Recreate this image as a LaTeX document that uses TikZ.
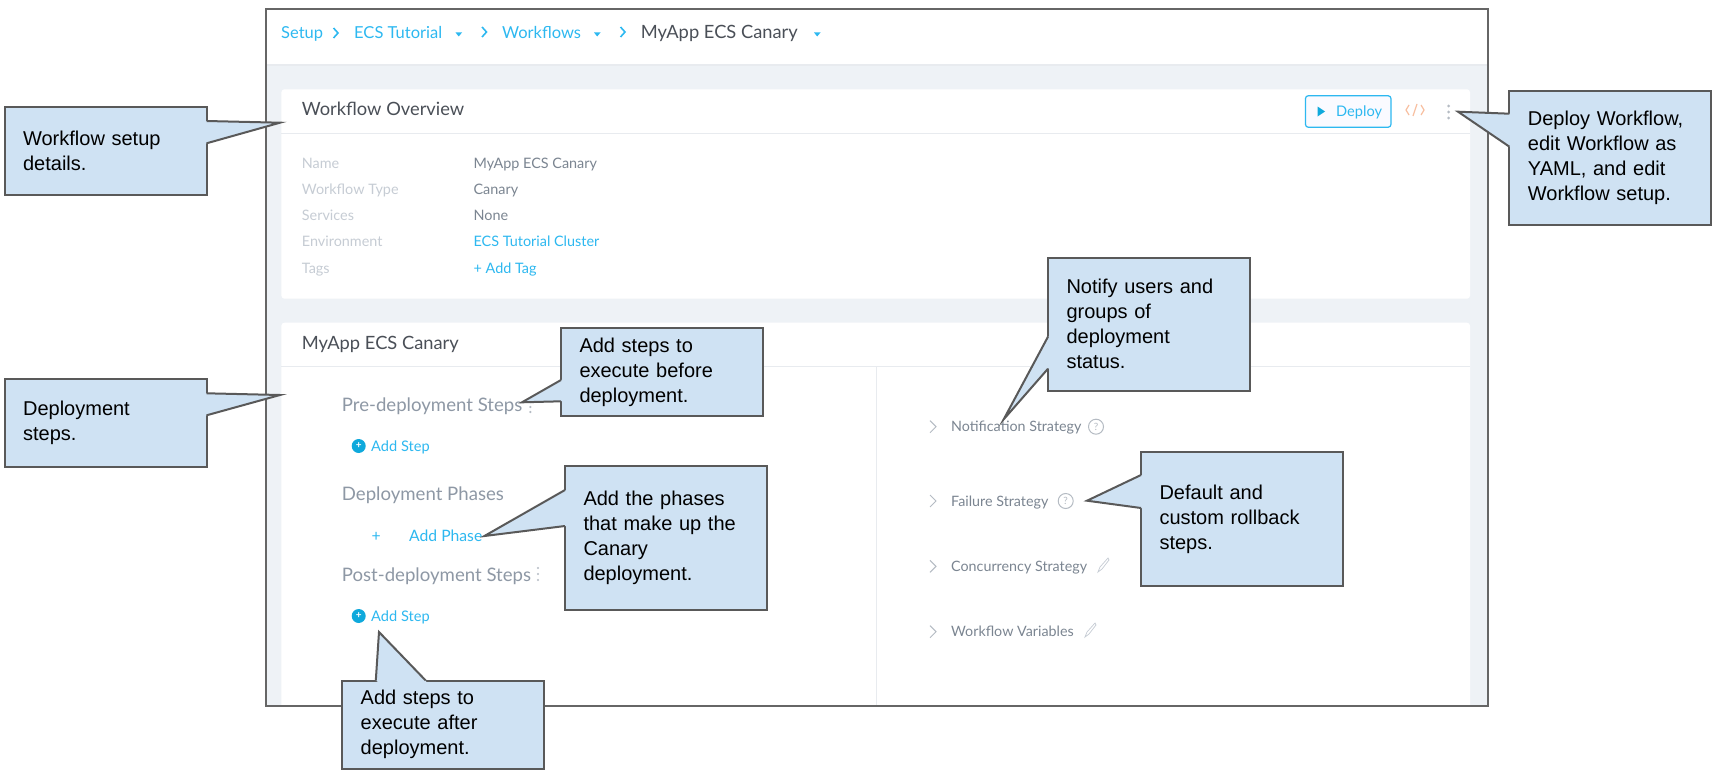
\documentclass[tikz,border=0pt]{standalone}
\usepackage{fontspec}
\usetikzlibrary{calc}
\setmainfont{Lato}
\newfontfamily\calloutfont{Liberation Sans}
\definecolor{calloutfill}{HTML}{CFE2F3}
\definecolor{calloutedge}{HTML}{595959}
\definecolor{framegray}{HTML}{666666}
\definecolor{pagebg}{HTML}{EEF2F6}
\definecolor{rulegray}{HTML}{E8EBEF}
\definecolor{linkblue}{HTML}{2DB8F0}
\definecolor{darktext}{HTML}{4A4F57}
\definecolor{keytext}{HTML}{C6CCD4}
\definecolor{valtext}{HTML}{7B8591}
\definecolor{headtext}{HTML}{8E98A5}
\definecolor{icongray}{HTML}{B5BBC3}
\definecolor{codeorange}{HTML}{F8BFA0}
\definecolor{stepblue}{HTML}{0FA9DC}
\tikzset{
  uitext/.style = {anchor=west, inner sep=0, text height=13pt, text depth=3pt},
  crumb/.style = {uitext, text=linkblue, font=\fontsize{16.5}{18}\selectfont},
  title/.style = {uitext, text=darktext, font=\fontsize{18.3}{20}\selectfont},
  rowkey/.style = {uitext, text=keytext, font=\fontsize{14.4}{16}\selectfont},
  rowval/.style = {uitext, text=valtext, font=\fontsize{14.4}{16}\selectfont},
  rowlink/.style = {uitext, text=linkblue, font=\fontsize{14.4}{16}\selectfont},
  stephead/.style = {uitext, text=headtext, font=\fontsize{18.6}{20}\selectfont},
  steplink/.style = {uitext, text=linkblue, font=\fontsize{14.6}{16}\selectfont},
  strategy/.style = {uitext, text=valtext, font=\fontsize{14.3}{16}\selectfont},
  stepicon/.style = {circle, fill=stepblue, text=white, minimum size=14pt, inner sep=0, font=\fontsize{10}{10}\selectfont\bfseries},
  helpicon/.style = {circle, draw=icongray, line width=1pt, text=icongray, minimum size=15pt, inner sep=0, font=\fontsize{10}{10}\selectfont},
  chev/.style = {draw=linkblue, line width=1.6pt},
  chevgray/.style = {draw=icongray, line width=1pt},
  caret/.style = {fill=linkblue},
  pencil/.style = {draw=keytext, line width=0.7pt},
  callout/.style = {draw=calloutedge, fill=calloutfill, line width=2pt, outer sep=0,
    minimum width=202pt, text width=165pt, inner xsep=18.5pt, inner ysep=0, align=left,
    font=\calloutfont\fontsize{20}{25}\selectfont}
}
% one tail of a callout: box, upper end, tip, lower end
\newcommand{\calltail}[4]{
  \fill[calloutfill] (#2) -- (#3) -- (#4) -- ($(#4)!3pt!(#1)$) -- ($(#2)!3pt!(#1)$) -- cycle;
  \draw[calloutedge, line width=2pt] (#2) -- (#3) -- (#4);
}
\begin{document}
\begin{tikzpicture}[x=1pt, y=-1pt]
  \useasboundingbox (0,0) rectangle (1720,776);

  % page and panels
  \fill[pagebg] (265.5,65) rectangle (1488,705.5);
  \draw[rulegray, line width=1.5pt] (265.5,65) -- (1488,65);
  \fill[white, rounded corners=3pt] (281.4,89.3) rectangle (1470,298.7);
  \fill[white, rounded corners=3pt] (281.4,322.7) rectangle (1470,720);
  \draw[rulegray, line width=1pt] (281.4,133.5) -- (1470,133.5);
  \draw[rulegray, line width=1pt] (281.4,366.3) -- (1470,366.3);
  \draw[rulegray, line width=0.8pt] (876.5,366.3) -- (876.5,705.5);
  \fill[white] (0,705.5) rectangle (1720,776);

  % breadcrumb
  \node[crumb] (setup) at (281,33) {Setup};
  \node[crumb] (tutorial) at (354,33) {ECS Tutorial};
  \node[crumb] (workflows) at (502,33) {Workflows};
  \node[title] (canary) at (640.7,33) {MyApp ECS Canary};
  \draw[chev] (333.5,28) -- (338,33) -- (333.5,38);
  \draw[chev] (482,27) -- (486.5,32) -- (482,37);
  \draw[chev] (620.5,27) -- (625,32) -- (620.5,37);
  \fill[caret] (455.5,32.5) -- (462,32.5) -- (458.7,36.5) -- cycle;
  \fill[caret] (594,32.5) -- (600.5,32.5) -- (597.2,36.5) -- cycle;
  \fill[caret] (814,32.5) -- (820.5,32.5) -- (817.2,36.5) -- cycle;

  % workflow overview
  \node[title] (overview) at (301.7,110.7) {Workflow Overview};
  \node[rowkey] (name) at (301.7,163.3) {Name};
  \node[rowkey] (type) at (301.7,189.5) {Workflow Type};
  \node[rowkey] (services) at (301.7,215.7) {Services};
  \node[rowkey] (environment) at (301.7,241.7) {Environment};
  \node[rowkey] (tags) at (301.7,268) {Tags};
  \node[rowval] (nameval) at (473.4,163.3) {MyApp ECS Canary};
  \node[rowval] (typeval) at (473.4,189.5) {Canary};
  \node[rowval] (servicesval) at (473.4,215.7) {None};
  \node[rowlink] (environmentval) at (473.4,241.7) {ECS Tutorial Cluster};
  \node[rowlink] (tagsval) at (473.4,268) {+ Add Tag};

  % buttons
  \draw[linkblue, fill=blue!2!white, line width=1.2pt, rounded corners=3pt] (1305.4,95.7) rectangle (1391,127.3);
  \fill[stepblue] (1317.5,106.5) -- (1325,111.5) -- (1317.5,116.5) -- cycle;
  \node[steplink] (deploy) at (1336,111) {Deploy};
  \draw[codeorange, line width=1.2pt] (1409,105) -- (1406,110) -- (1409,115);
  \draw[codeorange, line width=1.2pt] (1421,105) -- (1424,110) -- (1421,115);
  \draw[codeorange, line width=1.2pt] (1413,116) -- (1417,104);
  \fill[icongray] (1448.6,106) circle (1.6pt) (1448.6,112) circle (1.6pt) (1448.6,118) circle (1.6pt);

  % deployment panel
  \node[title] (panelname) at (301.7,344.3) {MyApp ECS Canary};
  \node[stephead] (pre) at (341.7,406.3) {Pre-deployment Steps};
  \node[stephead] (phases) at (341.7,495.7) {Deployment Phases};
  \node[stephead] (post) at (341.7,576) {Post-deployment Steps};
  \fill[icongray] (530.4,402) circle (1.2pt) (530.4,407) circle (1.2pt) (530.4,412) circle (1.2pt);
  \fill[icongray] (538,568) circle (1.2pt) (538,574) circle (1.2pt) (538,580) circle (1.2pt);
  \node[stepicon] (addpreicon) at (358.7,446) {+};
  \node[steplink] (addpre) at (371,446) {Add Step};
  \node[stepicon] (addposticon) at (358.7,616) {+};
  \node[steplink] (addpost) at (371,616) {Add Step};
  \node[uitext, text=linkblue, font=\fontsize{15.7}{16}\selectfont] (plus) at (371.5,536.7) {+};
  \node[uitext, text=linkblue, font=\fontsize{15.7}{16}\selectfont] (addphase) at (409,536) {Add Phase};

  % strategies
  \node[strategy] (notify) at (951,426.7) {Notification Strategy};
  \node[strategy] (failure) at (951,501) {Failure Strategy};
  \node[strategy] (concurrency) at (951,566.3) {Concurrency Strategy};
  \node[strategy] (variables) at (951,631.7) {Workflow Variables};
  \draw[chevgray] (930,420.7) -- (936,426.7) -- (930,432.7);
  \draw[chevgray] (930,495) -- (936,501) -- (930,507);
  \draw[chevgray] (930,560.3) -- (936,566.3) -- (930,572.3);
  \draw[chevgray] (930,625.7) -- (936,631.7) -- (930,637.7);
  \node[helpicon] (notifyhelp) at (1096,426.7) {?};
  \node[helpicon] (failurehelp) at (1065.7,501) {?};
  \draw[pencil] (1098,572) -- (1100,567) -- (1108,558) -- (1109,560) -- (1102,569) -- cycle;
  \draw[pencil] (1085,637) -- (1087,632) -- (1095,623) -- (1096,625) -- (1089,634) -- cycle;

  % frame
  \draw[framegray, line width=2pt] (265.5,9.3) rectangle (1488,705.5);

  % callouts
  \node[callout, minimum height=88pt] (setupbox) at (105.6,150.7) {Workflow setup\\details.};
  \node[callout, minimum height=88pt] (stepsbox) at (105.6,422.5) {Deployment\\steps.};
  \node[callout, minimum height=88pt] (prebox) at (662,372.3) {Add steps to\\execute before\\deployment.};
  \node[callout, minimum height=143.7pt] (phasebox) at (666,537.8) {Add the phases\\that make up the\\Canary\\deployment.};
  \node[callout, minimum height=88pt] (postbox) at (443.2,724.5) {Add steps to\\execute after\\deployment.};
  \node[callout, minimum height=133.3pt] (notifybox) at (1149,324.3) {Notify users and\\groups of\\deployment\\status.};
  \node[callout, minimum height=133.7pt] (rollbackbox) at (1242,519.2) {Default and\\custom rollback\\steps.};
  \node[callout, minimum height=133.7pt] (deploybox) at (1610.4,157.8) {Deploy Workflow,\\edit Workflow as\\YAML, and edit\\Workflow setup.};

  \coordinate (a1) at (206.6,121);
  \coordinate (t1) at (280,122.7);
  \coordinate (b1) at (206.6,143.3);
  \coordinate (a2) at (206.6,393.3);
  \coordinate (t2) at (280,395);
  \coordinate (b2) at (206.6,415.3);
  \coordinate (a3) at (561,380);
  \coordinate (t3) at (522,402.3);
  \coordinate (b3) at (561,401.3);
  \coordinate (a4) at (565,490);
  \coordinate (t4) at (484.4,536);
  \coordinate (b4) at (565,526);
  \coordinate (a5) at (375.8,680.5);
  \coordinate (t5) at (379,632);
  \coordinate (b5) at (425.7,680.5);
  \coordinate (a6) at (1048,336.7);
  \coordinate (t6) at (1003.7,419.3);
  \coordinate (b6) at (1048,368.7);
  \coordinate (a7) at (1141,475);
  \coordinate (t7) at (1087,500.7);
  \coordinate (b7) at (1141,508);
  \coordinate (a8) at (1509.4,113.7);
  \coordinate (t8) at (1458,111.7);
  \coordinate (b8) at (1509.4,146.7);

  \calltail{setupbox}{a1}{t1}{b1}
  \calltail{stepsbox}{a2}{t2}{b2}
  \calltail{prebox}{a3}{t3}{b3}
  \calltail{phasebox}{a4}{t4}{b4}
  \calltail{postbox}{a5}{t5}{b5}
  \calltail{notifybox}{a6}{t6}{b6}
  \calltail{rollbackbox}{a7}{t7}{b7}
  \calltail{deploybox}{a8}{t8}{b8}
\end{tikzpicture}
\end{document}
